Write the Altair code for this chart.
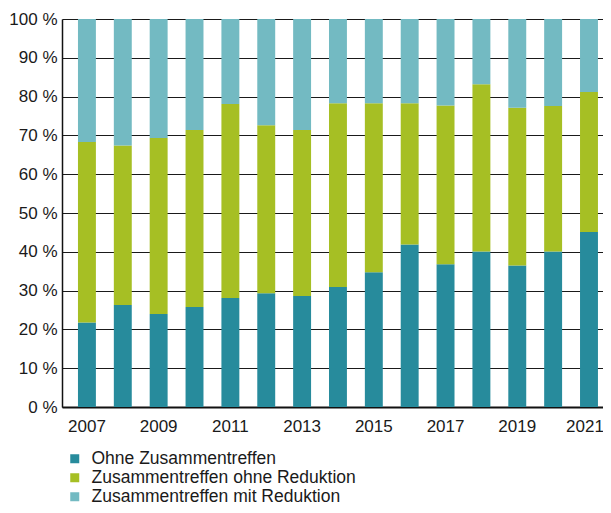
import altair as alt
import pandas as pd

years = ["2007", "2008", "2009", "2010", "2011", "2012", "2013", "2014",
         "2015", "2016", "2017", "2018", "2019", "2020", "2021"]
ohne = [21.8, 26.3, 24.0, 25.8, 28.1, 29.3, 28.6, 30.9, 34.7, 41.9, 36.8, 40.1, 36.5, 40.1, 45.1]
ohne_red = [46.5, 41.1, 45.3, 45.6, 50.0, 43.3, 42.8, 47.4, 43.6, 36.4, 40.9, 43.1, 40.6, 37.5, 36.1]
mit_red = [31.7, 32.6, 30.7, 28.6, 21.9, 27.4, 28.6, 21.7, 21.7, 21.7, 22.3, 16.8, 22.9, 22.4, 18.8]
series = ["Ohne Zusammentreffen", "Zusammentreffen ohne Reduktion", "Zusammentreffen mit Reduktion"]
colors = ["#278b9c", "#a6bf24", "#73bac2"]
x_labels = ["2007", "2009", "2011", "2013", "2015", "2017", "2019", "2021"]
y_ticks = [0, 10, 20, 30, 40, 50, 60, 70, 80, 90, 100]

rows = []
for vals, name, k in zip([ohne, ohne_red, mit_red], series, range(3)):
    for y, v in zip(years, vals):
        rows.append({"Jahr": y, "Anteil": v, "Kategorie": name, "ord": k})
df = pd.DataFrame(rows)

FONT = "Liberation Sans"
TXT = "#1a1a1a"

chart = alt.Chart(df).mark_bar().encode(
    x=alt.X("Jahr:N", sort=years,
            scale=alt.Scale(paddingInner=0.5, paddingOuter=0.293, align=0.76),
            axis=alt.Axis(title=None, values=x_labels, labelAngle=0, ticks=False,
                          labelPadding=11, labelFontSize=17, labelFont=FONT,
                          labelOffset=alt.condition("datum.value == '2021'",
                                                    alt.value(-4), alt.value(0)),
                          labelColor=TXT, domainColor="#111111",
                          domainWidth=2, grid=False)),
    y=alt.Y("Anteil:Q", stack="zero",
            scale=alt.Scale(domain=[0, 100], nice=False),
            axis=alt.Axis(title=None, values=y_ticks,
                          labelExpr="datum.value + ' %'", ticks=False, labelPadding=5,
                          labelFontSize=17, labelFont=FONT, labelColor=TXT,
                          domainColor="#111111", domainWidth=1.5,
                          grid=True, gridColor="#1a1a1a", gridWidth=1, gridOpacity=1)),
    color=alt.Color("Kategorie:N",
                    scale=alt.Scale(domain=series, range=colors),
                    legend=alt.Legend(title=None, orient="none", legendX=4, legendY=431,
                                      direction="vertical", symbolType="square",
                                      symbolSize=81, symbolStrokeWidth=0,
                                      labelFontSize=17.5, labelFont=FONT,
                                      labelColor=TXT, rowPadding=0, labelLimit=400,
                                      labelOffset=8, padding=0)),
    order=alt.Order("ord:Q", sort="ascending"),
).properties(
    width=541, height=388,
    autosize=alt.AutoSizeParams(type="none"),
    padding={"left": 54, "top": 11, "right": 0, "bottom": 98},
).configure_view(stroke=None)

chart.save("out.html", embed_options={"renderer": "svg", "actions": False})
